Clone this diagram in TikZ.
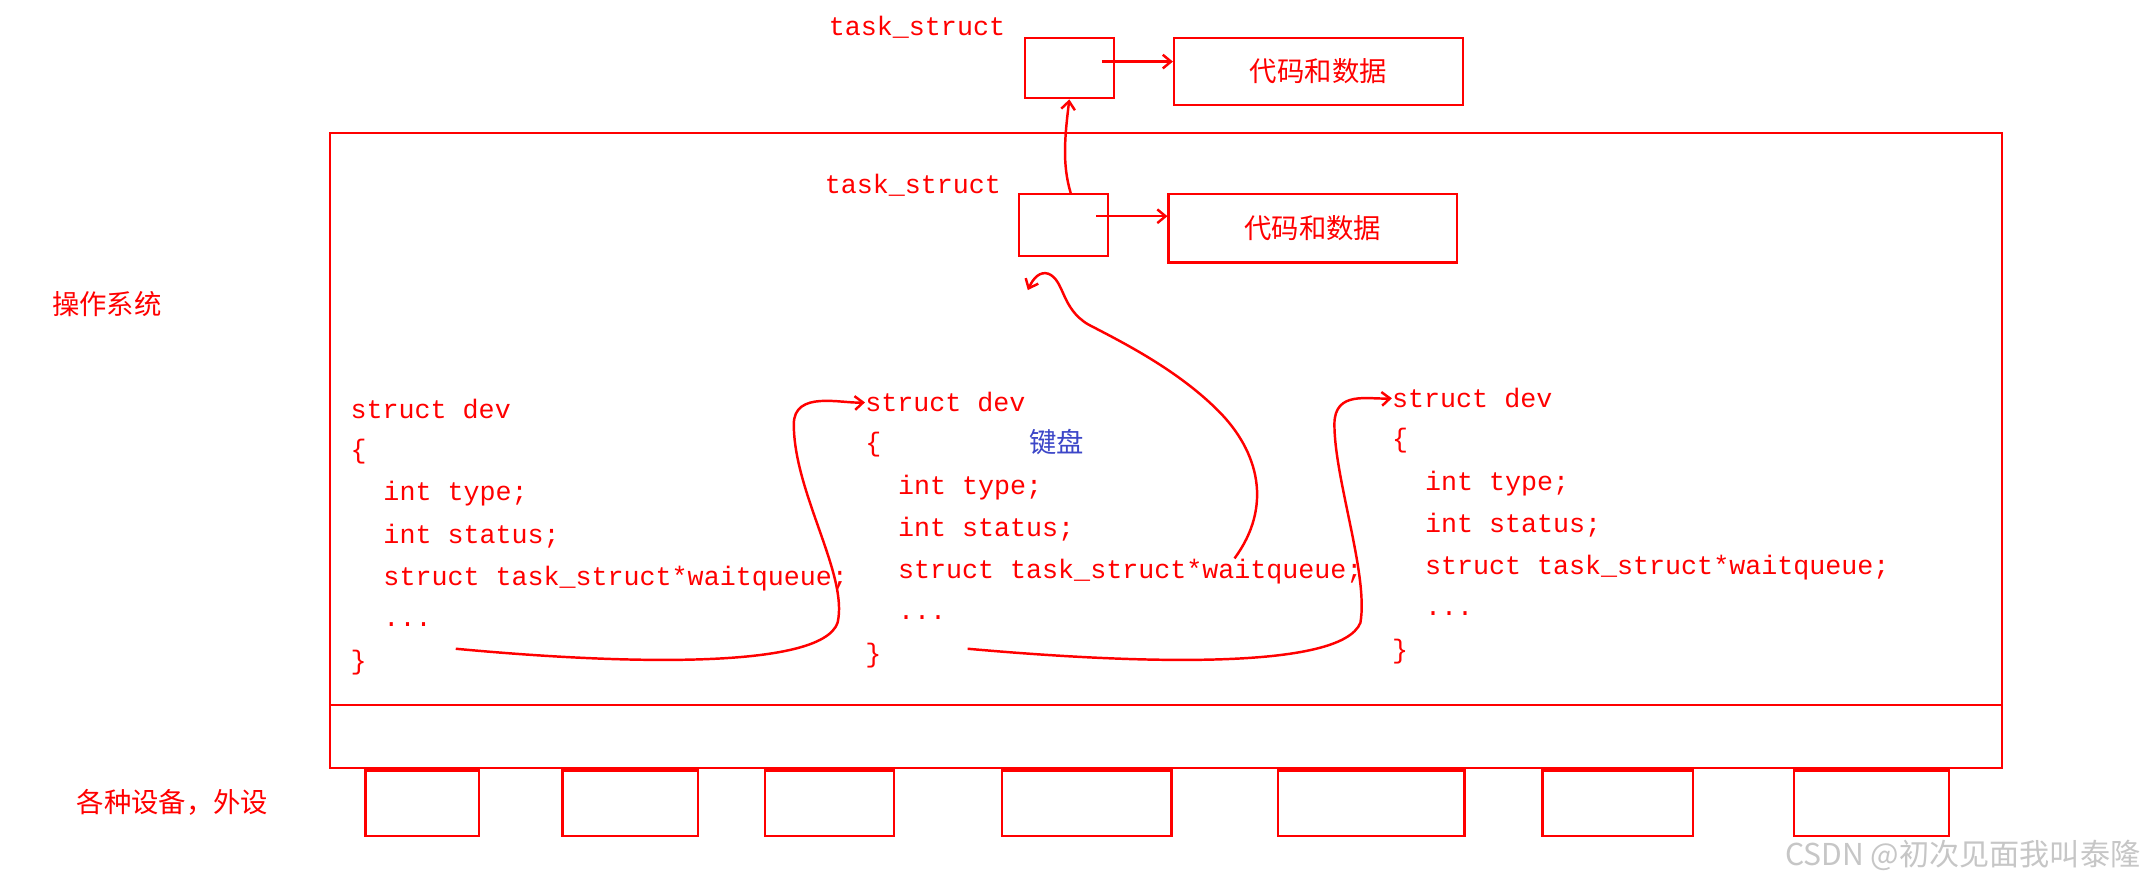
\documentclass[tikz,border=0pt]{standalone}
\usepackage{fontspec}
\setmainfont{Liberation Mono}
\newfontfamily\cjk{Noto Sans CJK SC}
\usetikzlibrary{arrows.meta}
\begin{document}
\begin{tikzpicture}[x=1pt,y=-1pt,
  red line/.style={draw=red,line width=1.6pt},
  box/.style={red line,inner sep=0pt,anchor=north west},
  code/.style={text=red,font=\fontsize{19.5}{22}\selectfont,anchor=west,inner sep=0pt},
  cn/.style={text=red,font=\cjk\fontsize{20}{24}\selectfont,inner sep=0pt},
  hand/.style={draw=red,line width=1.8pt,-{Straight Barb[length=6pt,width=10pt]}}]
\useasboundingbox (0,0) rectangle (1568,651);
\fill[white] (0,0) rectangle (1568,651);
% OS
\draw[red line] (241,97) rectangle (1463,515);
\draw[red line] (241,515) rectangle (1463,561);
\node[cn] (os) at (78,222) {操作系统};
\node[cn] (dev) at (126,586) {各种设备，外设};
% devices
\foreach \a/\b [count=\i] in {267/350,411/510,559/653,732/856,934/1070,1127/1237,1311/1424}
  \draw[red line] (\a,563) rectangle (\b,611);
% task structs
\node[code,anchor=center] (tl1) at (670,20) {task\_struct};
\node[box,minimum width=65pt,minimum height=44pt] (t1) at (748,27) {};
\node[box,minimum width=211pt,minimum height=49pt] (d1) at (857,27) {};
\node[cn] at (d1.center) {代码和数据};
\node[code,anchor=center] (tl2) at (667,135) {task\_struct};
\node[box,minimum width=65pt,minimum height=45pt] (t2) at (744,141) {};
\node[box,minimum width=211pt,minimum height=50pt] (d2) at (853,141) {};
\node[cn] at (d2.center) {代码和数据};
\coordinate (a1) at (805,45); \coordinate (a2) at (801,158);
\draw[hand] (a1) -- (d1.west |- a1);
\draw[hand] (a2) -- (d2.west |- a2);
\draw[hand] (t2.north) ++(5,0) .. controls (776,120) and (778,100) .. (t1.south);
% struct dev blocks
\foreach \x/\y/\n in {256/299/A,632/294/B,1017/291/C}{
  \node[code] (\n1) at (\x,\y) {struct dev};
  \node[code] (\n2) at (\x,\y+31) {\{};
  \node[code] (\n3) at (\x+24,\y+62) {int type;};
  \node[code] (\n4) at (\x+24,\y+93) {int status;};
  \node[code] (\n5) at (\x+24,\y+124) {struct task\_struct*waitqueue;};
  \node[code] (\n6) at (\x+24,\y+157) {...};
  \node[code] (\n7) at (\x,\y+185) {\}};
}
\node[text={rgb,255:red,60;green,70;blue,200},font=\cjk\fontsize{20}{24}\selectfont,inner sep=0pt] (kb) at (772,323) {键盘};
% hand arrows
\coordinate (s1) at (333,474); \coordinate (s2) at (707,474); \coordinate (s3) at (902,408);
\draw[hand] (s1) .. controls (450,485) and (600,490) .. (612,455)
  .. controls (620,420) and (580,360) .. (580,310)
  .. controls (580,285) and (615,295) .. (B1.west);
\draw[hand] (s2) .. controls (830,485) and (980,490) .. (994,455)
  .. controls (1000,420) and (975,350) .. (975,310)
  .. controls (975,285) and (1000,292) .. (C1.west);
\draw[hand] (s3) .. controls (930,370) and (920,330) .. (890,300)
  .. controls (860,270) and (820,250) .. (795,237)
  .. controls (775,225) and (778,205) .. (766,200)
  .. controls (760,198) and (755,203) .. (751,212);
\node[text=gray!45,font=\cjk\fontsize{22}{26}\selectfont,anchor=east,inner sep=0pt] (wm) at (1564,625) {CSDN @初次见面我叫泰隆};
\end{tikzpicture}
\end{document}
